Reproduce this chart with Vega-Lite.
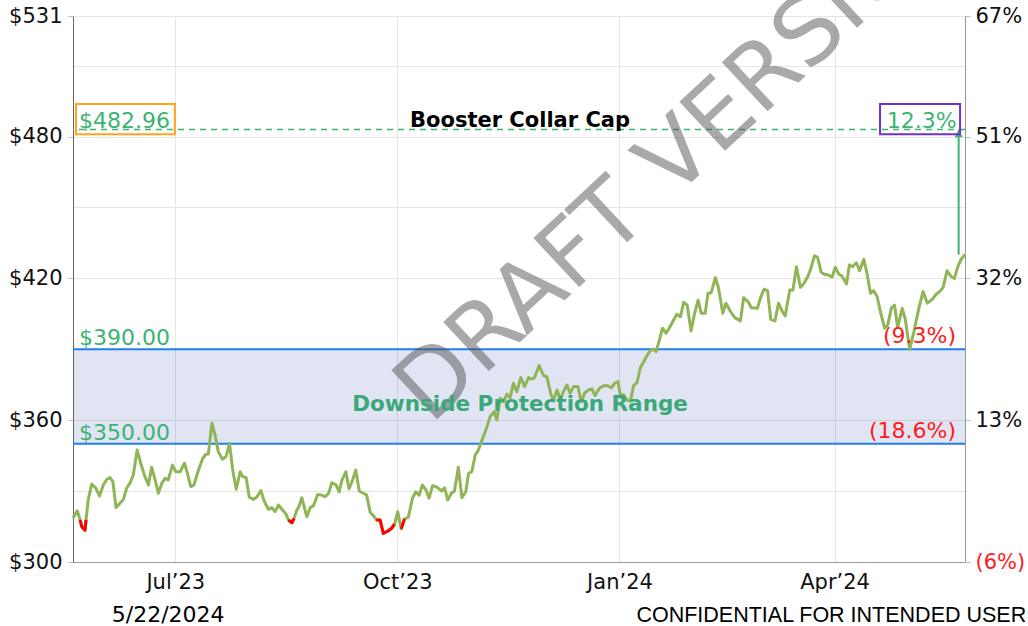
{
  "$schema": "https://vega.github.io/schema/vega-lite/v6.json",
  "width": 892,
  "height": 546,
  "autosize": "none",
  "padding": {"left": 73, "top": 16, "right": 63, "bottom": 64},
  "background": "white",
  "config": {
    "view": {"stroke": null},
    "axis": {"labelFont": "DejaVu Sans", "labelFontSize": 21, "labelColor": "#111", "gridColor": "#e6e6e6", "domainColor": "#999", "tickColor": "#bbb"},
    "text": {"font": "DejaVu Sans"}
  },
  "datasets": {
    "px": [
      {"t":0,"p":318.6},{"t":1.2,"p":321.7},{"t":2.0,"p":317.8,"r":317.8},{"t":2.5,"p":314.9,"r":314.9},{"t":3.4,"p":313.5,"r":313.5},{"t":3.7,"p":317.8,"r":317.8},
      {"t":4.3,"p":326.2},{"t":5.3,"p":333.0},{"t":6.5,"p":331.2},{"t":7.5,"p":327.9},{"t":8.6,"p":332.6},{"t":9.6,"p":335.0},{"t":10.5,"p":335.7},{"t":11.3,"p":334.0},
      {"t":12.2,"p":323.1},{"t":13.3,"p":324.8},{"t":14.3,"p":326.5},{"t":15.2,"p":331.2},{"t":16.2,"p":333.5},{"t":17.1,"p":336.8},{"t":18.2,"p":347.4},{"t":19.2,"p":341.8},
      {"t":20.4,"p":336.1},{"t":21.4,"p":332.6},{"t":22.3,"p":340.1},{"t":23.3,"p":334.7},{"t":24.2,"p":329.1},{"t":25.2,"p":333.3},{"t":26.1,"p":335.4},{"t":27.0,"p":334.7},
      {"t":28.2,"p":341.0},{"t":29.2,"p":338.2},{"t":30.4,"p":338.2},{"t":31.6,"p":341.8},{"t":32.4,"p":337.8},{"t":33.4,"p":331.9},{"t":34.3,"p":332.6},{"t":35.6,"p":338.9},
      {"t":36.8,"p":343.9},{"t":37.7,"p":345.6},{"t":38.4,"p":345.7},{"t":39.4,"p":358.7},{"t":40.3,"p":353.7},{"t":41.2,"p":346.7},{"t":42.4,"p":343.5},{"t":43.4,"p":344.6},
      {"t":44.4,"p":350.2},{"t":45.3,"p":338.9},{"t":46.3,"p":330.8},{"t":47.4,"p":338.2},{"t":48.2,"p":336.1},{"t":49.1,"p":335.8},{"t":50.0,"p":327.4},{"t":51.2,"p":326.5},
      {"t":52.1,"p":327.4},{"t":53.3,"p":330.2},{"t":54.2,"p":325.9},{"t":55.4,"p":322.3},{"t":56.4,"p":323.0},{"t":57.3,"p":321.3},{"t":58.3,"p":324.1},{"t":59.2,"p":322.4},
      {"t":60.4,"p":320.3},{"t":61.1,"p":317.8,"r":317.8},{"t":62.1,"p":316.6,"r":316.6},{"t":62.7,"p":318.5,"r":318.5},{"t":63.5,"p":322.0},{"t":64.1,"p":323.5},{"t":64.9,"p":327.2},
      {"t":66.3,"p":319.2},{"t":67.3,"p":323.0},{"t":68.2,"p":323.8},{"t":69.4,"p":328.6},{"t":70.6,"p":328.3},{"t":71.5,"p":327.6},{"t":72.5,"p":329.1},{"t":73.4,"p":333.5},
      {"t":74.6,"p":332.6},{"t":75.5,"p":329.7},{"t":76.2,"p":334.3},{"t":77.4,"p":338.2},{"t":78.3,"p":330.9},{"t":79.3,"p":334.7},{"t":80.2,"p":338.9},{"t":81.2,"p":330.0},
      {"t":82.4,"p":329.1},{"t":83.3,"p":328.3},{"t":84.3,"p":321.0},{"t":85.2,"p":319.6},{"t":86.0,"p":317.8,"r":317.8},{"t":87.1,"p":317.8,"r":317.8},{"t":88.0,"p":312.1,"r":312.1},
      {"t":89.3,"p":313.1,"r":313.1},{"t":90.4,"p":314.3,"r":314.3},{"t":91.2,"p":316.0,"r":316.0},{"t":92.1,"p":321.3},{"t":93.1,"p":314.0,"r":314.0},{"t":94.0,"p":318.2,"r":318.2},
      {"t":95.1,"p":318.9},{"t":96.3,"p":327.0},{"t":97.2,"p":329.7},{"t":98.2,"p":328.3},{"t":99.1,"p":332.6},{"t":100.1,"p":330.5},{"t":101.0,"p":327.0},{"t":102.0,"p":332.3},
      {"t":102.9,"p":331.9},{"t":103.9,"p":330.9},{"t":104.6,"p":330.0},{"t":105.4,"p":331.4},{"t":106.3,"p":326.2},{"t":107.3,"p":329.1},{"t":108.2,"p":330.0},{"t":109.3,"p":340.1},
      {"t":110.3,"p":327.2},{"t":111.4,"p":329.7},{"t":112.2,"p":337.5},{"t":113.1,"p":338.2},{"t":114.1,"p":345.3},{"t":115.0,"p":347.4},{"t":116.0,"p":351.6},{"t":117.1,"p":355.8},
      {"t":118.3,"p":361.5},{"t":119.5,"p":363.6},{"t":120.2,"p":360.1},{"t":121.2,"p":369.3},{"t":122.1,"p":367.8},{"t":123.1,"p":371.0},{"t":124.0,"p":369.5},{"t":124.9,"p":375.6},
      {"t":125.9,"p":372.1},{"t":127.0,"p":378.0},{"t":128.1,"p":374.2},{"t":129.2,"p":378.0},{"t":130.2,"p":377.4},{"t":130.9,"p":378.0},{"t":132.2,"p":383.1},{"t":133.5,"p":378.8},
      {"t":134.4,"p":378.4},{"t":135.6,"p":370.7},{"t":136.3,"p":368.5},{"t":137.3,"p":372.8},{"t":138.2,"p":368.5},{"t":139.1,"p":372.1},{"t":140.1,"p":374.9},{"t":141.0,"p":371.4},
      {"t":142.0,"p":374.2},{"t":143.2,"p":374.2},{"t":144.2,"p":367.8},{"t":145.1,"p":371.4},{"t":146.2,"p":372.8},{"t":147.2,"p":373.2},{"t":148.1,"p":370.4},{"t":149.3,"p":373.5},
      {"t":150.5,"p":374.6},{"t":151.7,"p":374.6},{"t":152.7,"p":373.7},{"t":153.6,"p":375.6},{"t":154.6,"p":376.3},{"t":155.2,"p":370.9},{"t":156.2,"p":370.7},{"t":157.1,"p":368.5},
      {"t":158.1,"p":368.1},{"t":159.0,"p":374.6},{"t":160.0,"p":376.0},{"t":160.9,"p":382.2},{"t":161.8,"p":384.5},{"t":162.8,"p":387.3},{"t":163.7,"p":389.3},{"t":164.7,"p":390.1},
      {"t":165.4,"p":389.0},{"t":166.3,"p":393.9},{"t":167.2,"p":398.9},{"t":168.2,"p":396.8},{"t":169.1,"p":398.9},{"t":170.1,"p":401.7},{"t":171.3,"p":404.8},{"t":172.3,"p":403.8},
      {"t":173.2,"p":409.9},{"t":174.2,"p":408.7},{"t":175.3,"p":397.7},{"t":176.3,"p":405.2},{"t":177.3,"p":410.8},{"t":178.2,"p":405.2},{"t":179.3,"p":405.2},{"t":180.1,"p":413.7},
      {"t":181.0,"p":413.9},{"t":182.2,"p":420.3},{"t":183.1,"p":415.8},{"t":184.3,"p":405.2},{"t":185.2,"p":409.5},{"t":186.4,"p":406.2},{"t":187.7,"p":403.4},{"t":189.3,"p":402.0},
      {"t":190.2,"p":411.8},{"t":191.5,"p":410.1},{"t":192.4,"p":407.6},{"t":194.1,"p":407.3},{"t":195.1,"p":412.2},{"t":196.0,"p":415.4},{"t":197.0,"p":414.8},{"t":197.9,"p":402.7},
      {"t":199.1,"p":402.0},{"t":200.1,"p":409.5},{"t":201.1,"p":406.3},{"t":202.0,"p":404.1},{"t":203.3,"p":415.1},{"t":204.2,"p":415.1},{"t":205.2,"p":424.9},{"t":206.3,"p":416.2},
      {"t":207.2,"p":417.6},{"t":208.4,"p":420.7},{"t":209.3,"p":424.3},{"t":210.3,"p":429.5},{"t":211.2,"p":428.9},{"t":212.2,"p":422.6},{"t":213.1,"p":421.7},{"t":214.3,"p":421.4},
      {"t":215.3,"p":420.5},{"t":216.2,"p":424.7},{"t":217.2,"p":421.8},{"t":218.1,"p":421.0},{"t":219.4,"p":417.6},{"t":220.2,"p":425.7},{"t":221.1,"p":424.9},{"t":222.2,"p":426.6},
      {"t":223.1,"p":423.2},{"t":224.3,"p":428.1},{"t":225.2,"p":422.1},{"t":226.2,"p":413.7},{"t":227.1,"p":414.8},{"t":228.1,"p":412.2},{"t":229.0,"p":405.9},{"t":230.2,"p":398.9},
      {"t":231.1,"p":400.3},{"t":232.1,"p":407.3},{"t":233.0,"p":408.7},{"t":233.9,"p":399.3},{"t":235.2,"p":407.3},{"t":236.1,"p":402.4},{"t":237.3,"p":390.0},{"t":238.5,"p":397.4},
      {"t":239.9,"p":407.3},{"t":241.1,"p":414.4},{"t":242.3,"p":409.5},{"t":243.7,"p":411.1},{"t":244.9,"p":413.4},{"t":245.8,"p":414.4},{"t":246.8,"p":416.2},{"t":247.9,"p":423.2},
      {"t":249.1,"p":420.7},{"t":250.0,"p":420.0},{"t":250.9,"p":424.7},{"t":251.9,"p":428.1},{"t":253,"p":430.06}
    ],
    "band": [{"lo": 350, "hi": 390, "label": "Downside Protection Range", "mid": 366.4, "t": 126.8}],
    "levels": [
      {"v": 390, "lab": "$390.00", "pct": "(9.3%)"},
      {"v": 350, "lab": "$350.00", "pct": "(18.6%)"}
    ],
    "cap": [{"v": 482.96, "now": 430.06, "lab": "$482.96", "pct": "12.3%", "title": "Booster Collar Cap", "tmid": 126.8, "tarrow": 251.2, "tl": 1.7, "tr": 250.6}],
    "boxes": [
      {"t0": 0.85, "t1": 28.9, "lo": 481.0, "hi": 493.8, "kind": "price"},
      {"t0": 228.9, "t1": 251.6, "lo": 481.0, "hi": 493.8, "kind": "pct"}
    ],
    "footDate": [{"t": 27, "y": 274.6, "txt": "5/22/2024"}],
    "footConf": [{"t": 159.8, "y": 274.6, "txt": "CONFIDENTIAL FOR INTENDED USER"}],
    "wm": [{"t": 173, "y": 473.5, "txt": "DRAFT VERSION"}]
  },
  "layer": [
    {
      "layer": [
        {
          "data": {"name": "band"},
          "mark": {"type": "rect", "fill": "#3550b0", "fillOpacity": 0.15},
          "encoding": {
            "y": {"field": "lo", "type": "quantitative", "title": null,
              "scale": {"domain": [300, 531], "nice": false, "zero": false},
              "axis": {
                "values": [300, 315, 330, 345, 360, 375, 390, 405, 420, 435, 450, 465, 480, 495, 510, 525, 531],
                "labelExpr": "indexof([300,360,420,480,531], datum.value) >= 0 ? '$' + datum.value : ''",
                "grid": true, "tickSize": 5, "labelPadding": 6, "domainColor": "#666",
                "tickOpacity": {"condition": {"test": "indexof([300,360,420,480,531], datum.value) >= 0", "value": 1}, "value": 0}
              }
            },
            "y2": {"field": "hi"}
          }
        },
        {
          "data": {"name": "levels"},
          "mark": {"type": "rule", "color": "#1f7fef", "strokeWidth": 2},
          "encoding": {"y": {"field": "v", "type": "quantitative", "title": null, "scale": {"domain": [300, 531]}}}
        },
        {
          "data": {"name": "cap"},
          "mark": {"type": "rule", "color": "#3cb371", "strokeWidth": 1.5, "strokeDash": [6, 5]},
          "encoding": {"y": {"field": "v", "type": "quantitative", "title": null, "scale": {"domain": [300, 531]}}}
        },
        {
          "data": {"name": "px"},
          "mark": {"type": "line", "color": "#8fb556", "strokeWidth": 3, "strokeJoin": "round"},
          "encoding": {
            "x": {"field": "t", "type": "quantitative", "title": null,
              "scale": {"domain": [0, 253], "nice": false, "zero": false},
              "axis": {
                "values": [29, 92, 155, 216],
                "labelExpr": "datum.value == 29 ? 'Jul’23' : datum.value == 92 ? 'Oct’23' : datum.value == 155 ? 'Jan’24' : 'Apr’24'",
                "grid": true, "ticks": false, "labelPadding": 9, "domainColor": "#999"
              }
            },
            "y": {"field": "p", "type": "quantitative", "title": null, "scale": {"domain": [300, 531]}}
          }
        },
        {
          "data": {"name": "px"},
          "mark": {"type": "line", "color": "#ff0000", "strokeWidth": 3, "strokeJoin": "round", "invalid": "break-paths-show-domains"},
          "encoding": {
            "x": {"field": "t", "type": "quantitative", "title": null},
            "y": {"field": "r", "type": "quantitative", "title": null, "scale": {"domain": [300, 531]}}
          }
        },
        {
          "data": {"name": "wm"},
          "mark": {"type": "text", "fontSize": 92, "color": "#555555", "opacity": 0.5, "angle": 317, "align": "center", "baseline": "middle"},
          "encoding": {
            "x": {"field": "t", "type": "quantitative", "title": null},
            "y": {"field": "y", "type": "quantitative", "title": null, "scale": {"domain": [300, 531]}},
            "text": {"field": "txt"}
          }
        },
        {
          "data": {"name": "cap"},
          "mark": {"type": "rule", "color": "#3cb371", "strokeWidth": 2},
          "encoding": {
            "x": {"field": "tarrow", "type": "quantitative", "title": null},
            "y": {"field": "now", "type": "quantitative", "title": null, "scale": {"domain": [300, 531]}},
            "y2": {"field": "v"}
          }
        },
        {
          "data": {"name": "cap"},
          "mark": {"type": "point", "shape": "triangle-up", "filled": true, "color": "#3cb371", "size": 70, "opacity": 1, "yOffset": 4},
          "encoding": {
            "x": {"field": "tarrow", "type": "quantitative", "title": null},
            "y": {"field": "v", "type": "quantitative", "title": null, "scale": {"domain": [300, 531]}}
          }
        },
        {
          "data": {"name": "boxes"},
          "mark": {"type": "rect", "fill": null, "fillOpacity": 0, "strokeWidth": 2},
          "encoding": {
            "x": {"field": "t0", "type": "quantitative", "title": null},
            "x2": {"field": "t1"},
            "y": {"field": "lo", "type": "quantitative", "title": null, "scale": {"domain": [300, 531]}},
            "y2": {"field": "hi"},
            "stroke": {"field": "kind", "type": "nominal", "scale": {"domain": ["price", "pct"], "range": ["#ffa41b", "#7130d6"]}, "legend": null}
          }
        },
        {
          "data": {"name": "band"},
          "mark": {"type": "text", "fontSize": 21.5, "fontWeight": "bold", "color": "#3aa878", "align": "center", "baseline": "middle"},
          "encoding": {
            "x": {"field": "t", "type": "quantitative", "title": null},
            "y": {"field": "mid", "type": "quantitative", "title": null, "scale": {"domain": [300, 531]}},
            "text": {"field": "label"}
          }
        },
        {
          "data": {"name": "levels"},
          "mark": {"type": "text", "fontSize": 22, "color": "#3cb371", "align": "left", "baseline": "alphabetic", "dy": -4, "x": 6},
          "encoding": {
            "y": {"field": "v", "type": "quantitative", "title": null, "scale": {"domain": [300, 531]}},
            "text": {"field": "lab"}
          }
        },
        {
          "data": {"name": "levels"},
          "mark": {"type": "text", "fontSize": 22, "color": "#ff1a1a", "align": "right", "baseline": "alphabetic", "dy": -6, "x": 883},
          "encoding": {
            "y": {"field": "v", "type": "quantitative", "title": null, "scale": {"domain": [300, 531]}},
            "text": {"field": "pct"}
          }
        },
        {
          "data": {"name": "cap"},
          "mark": {"type": "text", "fontSize": 22, "color": "#3cb371", "align": "left", "baseline": "alphabetic", "dy": -2},
          "encoding": {
            "x": {"field": "tl", "type": "quantitative", "title": null},
            "y": {"field": "v", "type": "quantitative", "title": null, "scale": {"domain": [300, 531]}},
            "text": {"field": "lab"}
          }
        },
        {
          "data": {"name": "cap"},
          "mark": {"type": "text", "fontSize": 22, "color": "#3cb371", "align": "right", "baseline": "alphabetic", "dy": -2},
          "encoding": {
            "x": {"field": "tr", "type": "quantitative", "title": null},
            "y": {"field": "v", "type": "quantitative", "title": null, "scale": {"domain": [300, 531]}},
            "text": {"field": "pct"}
          }
        },
        {
          "data": {"name": "cap"},
          "mark": {"type": "text", "fontSize": 21, "fontWeight": "bold", "color": "#000000", "align": "center", "baseline": "alphabetic", "dy": -3},
          "encoding": {
            "x": {"field": "tmid", "type": "quantitative", "title": null},
            "y": {"field": "v", "type": "quantitative", "title": null, "scale": {"domain": [300, 531]}},
            "text": {"field": "title"}
          }
        },
        {
          "data": {"name": "footDate"},
          "mark": {"type": "text", "baseline": "alphabetic", "align": "center", "color": "#000000", "font": "DejaVu Sans", "fontSize": 22},
          "encoding": {
            "x": {"field": "t", "type": "quantitative", "title": null},
            "y": {"field": "y", "type": "quantitative", "title": null, "scale": {"domain": [300, 531]}},
            "text": {"field": "txt"}
          }
        },
        {
          "data": {"name": "footConf"},
          "mark": {"type": "text", "baseline": "alphabetic", "align": "left", "color": "#000000", "font": "Liberation Sans", "fontSize": 21.5},
          "encoding": {
            "x": {"field": "t", "type": "quantitative", "title": null},
            "y": {"field": "y", "type": "quantitative", "title": null, "scale": {"domain": [300, 531]}},
            "text": {"field": "txt"}
          }
        }
      ]
    },
    {
      "data": {"name": "px"},
      "mark": {"type": "line", "opacity": 0},
      "encoding": {
        "x": {"field": "t", "type": "quantitative", "title": null},
        "y": {"field": "p", "type": "quantitative", "title": null,
          "scale": {"domain": [300, 531], "nice": false, "zero": false},
          "axis": {
            "orient": "right", "grid": false,
            "values": [300, 360, 420, 480, 531],
            "labelExpr": "datum.value == 300 ? '(6%)' : datum.value == 360 ? '13%' : datum.value == 420 ? '32%' : datum.value == 480 ? '51%' : '67%'",
            "labelColor": {"condition": {"test": "datum.value == 300", "value": "#ff1a1a"}, "value": "#111"},
            "tickSize": 5, "labelPadding": 5, "domainColor": "#999"
          }
        }
      }
    }
  ],
  "resolve": {"scale": {"y": "independent"}}
}
